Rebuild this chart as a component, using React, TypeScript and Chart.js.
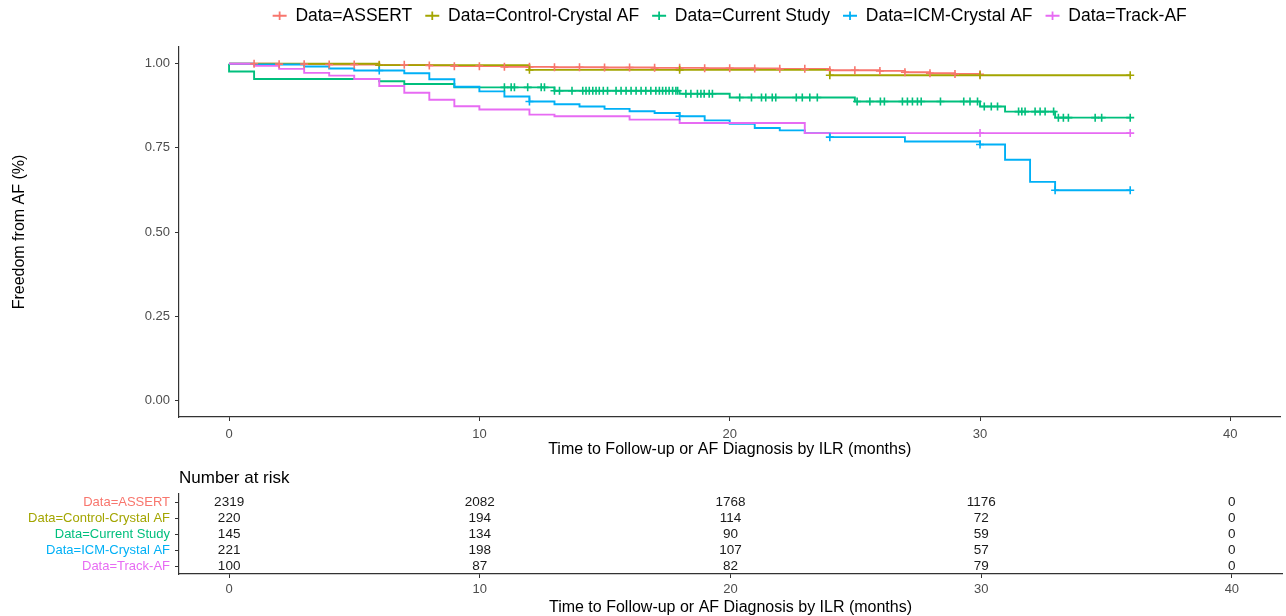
import React, { useEffect, useRef } from "react";
import { Chart, registerables } from "chart.js";

Chart.register(...registerables);

const FONT = "'Liberation Sans', Arial, Helvetica, sans-serif";

const seriesNames = [
  "Data=ASSERT",
  "Data=Control-Crystal AF",
  "Data=Current Study",
  "Data=ICM-Crystal AF",
  "Data=Track-AF",
];
const seriesColors = ["#F8766D", "#A3A500", "#00BF7D", "#00B0F6", "#E76BF3"];

// ASSERT
const assertTimes = [0, 2, 4, 6, 8, 9, 11, 13, 15, 17, 19, 21, 22, 24, 26, 27, 28, 29, 30];
const assertSurv = [1.0, 0.999, 0.998, 0.997, 0.995, 0.993, 0.991, 0.99, 0.989, 0.988, 0.987, 0.986, 0.985, 0.981, 0.979, 0.975, 0.972, 0.97, 0.969];
const assertCensor = [1, 2, 3, 4, 5, 6, 7, 8, 9, 10, 11, 12, 13, 14, 15, 16, 17, 18, 19, 20, 21, 22, 23, 24, 25, 26, 27, 28, 29, 30];

// Control-Crystal AF
const controlTimes = [0, 6, 12, 24, 36];
const controlSurv = [1.0, 0.996, 0.982, 0.966, 0.966];
const controlCensor = [6, 12, 18, 24, 30, 36];

// Current Study
const currentTimes = [0, 0, 1, 6, 7, 9, 13, 18, 20, 25, 30, 31, 33, 36];
const currentSurv = [1.0, 0.977, 0.955, 0.948, 0.94, 0.93, 0.92, 0.911, 0.9, 0.888, 0.873, 0.858, 0.84, 0.84];
const currentCensor = [
  11.0, 11.27, 11.4, 11.93, 12.47, 12.6, 13.0, 13.2, 13.7, 14.13, 14.26, 14.39, 14.53, 14.66, 14.79, 14.95,
  15.12, 15.46, 15.66, 15.86, 16.06, 16.26, 16.46, 16.65, 16.85, 17.05, 17.19, 17.32, 17.45, 17.58, 17.72,
  17.85, 17.92, 18.25, 18.45, 18.71, 18.85, 18.98, 19.18, 19.31, 20.4, 20.87, 21.27, 21.44, 21.7, 21.84,
  22.66, 22.9, 23.2, 23.5, 25.09, 25.6, 26.02, 26.18, 26.9, 27.1, 27.3, 27.5, 27.65, 28.42, 29.35, 29.6,
  29.9, 30.17, 30.45, 30.7, 31.54, 31.67, 31.8, 32.2, 32.4, 32.6, 32.94, 33.13, 33.33, 33.53, 34.6, 34.86, 36,
];

// ICM-Crystal AF
const icmTimes = [0, 1, 3, 4, 5, 7, 8, 9, 10, 11, 12, 13, 14, 15, 16, 17, 18, 19, 20, 21, 22, 23, 24, 27, 30, 31, 32, 33, 36];
const icmSurv = [1.0, 0.998, 0.992, 0.986, 0.98, 0.972, 0.954, 0.932, 0.918, 0.903, 0.888, 0.88, 0.873, 0.866, 0.859, 0.854, 0.844, 0.832, 0.822, 0.809, 0.802, 0.794, 0.782, 0.769, 0.76, 0.715, 0.649, 0.624, 0.624];
const icmCensor = [6, 12, 18, 24, 30, 33, 36];

// Track-AF
const trackTimes = [0, 1, 2, 3, 4, 5, 6, 7, 8, 9, 10, 12, 13, 16, 18, 23, 36];
const trackSurv = [1.0, 0.994, 0.985, 0.973, 0.965, 0.955, 0.934, 0.914, 0.893, 0.874, 0.864, 0.849, 0.844, 0.834, 0.824, 0.794, 0.794];
const trackCensor = [30, 36];

const xTicks = [0, 10, 20, 30, 40];
const yTicks = [0, 0.25, 0.5, 0.75, 1];

// Number at risk
const riskTimes = [0, 10, 20, 30, 40];
const riskAssert = [2319, 2082, 1768, 1176, 0];
const riskControl = [220, 194, 114, 72, 0];
const riskCurrent = [145, 134, 90, 59, 0];
const riskIcm = [221, 198, 107, 57, 0];
const riskTrack = [100, 87, 82, 79, 0];

function stepValue(times: number[], surv: number[], t: number): number {
  let v = surv[0];
  for (let i = 0; i < times.length; i++) {
    if (times[i] <= t) v = surv[i];
  }
  return v;
}

const AXIS_COLOR = "#333333";
const TICK_TEXT = "#4D4D4D";

function xAxisConfig(height: number, tickPad: number, titlePad: number) {
  return {
    type: "linear",
    min: -2,
    max: 42,
    afterBuildTicks: (s: any) => {
      s.ticks = xTicks.map((v) => ({ value: v }));
    },
    afterFit: (s: any) => {
      s.height = height;
    },
    ticks: {
      font: { family: FONT, size: 13 },
      color: TICK_TEXT,
      padding: tickPad,
      maxRotation: 0,
      autoSkip: false,
    },
    grid: { drawOnChartArea: false, drawTicks: true, tickLength: 4, color: AXIS_COLOR, lineWidth: 1 },
    border: { display: true, color: AXIS_COLOR, width: 1.2 },
    title: {
      display: true,
      text: "Time to Follow-up or AF Diagnosis by ILR (months)",
      font: { family: FONT, size: 16 },
      color: "#000",
      padding: { top: 0, bottom: titlePad },
    },
  };
}

function SurvivalChart() {
  const ref = useRef<HTMLCanvasElement>(null);
  useEffect(() => {
    if (!ref.current) return;
    const curves = [
      { times: assertTimes, surv: assertSurv, censor: assertCensor },
      { times: controlTimes, surv: controlSurv, censor: controlCensor },
      { times: currentTimes, surv: currentSurv, censor: currentCensor },
      { times: icmTimes, surv: icmSurv, censor: icmCensor },
      { times: trackTimes, surv: trackSurv, censor: trackCensor },
    ];
    const lineSets = curves.map((c, i) => ({
      label: seriesNames[i],
      data: c.times.map((t, j) => ({ x: t, y: c.surv[j] })),
      borderColor: seriesColors[i],
      backgroundColor: seriesColors[i],
      borderWidth: 1.9,
      stepped: "before",
      pointRadius: 0,
      pointHoverRadius: 0,
      pointStyle: "cross",
      pointBorderColor: seriesColors[i],
      pointBorderWidth: 1.8,
      fill: false,
      tension: 0,
      order: 10 - i,
    }));
    const censorSets = curves.map((c, i) => ({
      label: seriesNames[i] + " (censored)",
      data: c.censor.map((t) => ({ x: t, y: stepValue(c.times, c.surv, t) })),
      showLine: false,
      pointStyle: "cross",
      pointRadius: 4,
      pointHoverRadius: 4,
      pointBorderWidth: 1.6,
      pointBorderColor: seriesColors[i],
      pointBackgroundColor: seriesColors[i],
      borderColor: seriesColors[i],
      backgroundColor: seriesColors[i],
      order: 5 - i,
    }));

    const chart = new Chart(ref.current, {
      type: "line",
      data: { datasets: [...lineSets, ...censorSets] as any },
      options: {
        animation: false,
        responsive: false,
        events: [],
        layout: { padding: { top: -6, right: 4, left: 0, bottom: 0 } },
        plugins: {
          tooltip: { enabled: false },
          legend: {
            display: true,
            position: "top",
            fullSize: false,
            labels: {
              usePointStyle: true,
              pointStyleWidth: 14,
              boxHeight: 6,
              padding: 13,
              color: "#000",
              font: { family: FONT, size: 17.5 },
              filter: (item: any) => item.datasetIndex < seriesNames.length,
              sort: (a: any, b: any) => a.datasetIndex - b.datasetIndex,
            },
          },
        },
        scales: {
          x: xAxisConfig(43, 5.5, 0.4) as any,
          xTop: {
            type: "linear",
            position: "top",
            display: true,
            grid: { display: false },
            border: { display: false },
            ticks: { display: false },
            afterFit: (s: any) => {
              s.height = 12.5;
            },
          } as any,
          y: {
            type: "linear",
            min: -0.05,
            max: 1.05,
            afterBuildTicks: (s: any) => {
              s.ticks = yTicks.map((v) => ({ value: v }));
            },
            afterFit: (s: any) => {
              s.width = 179;
            },
            ticks: {
              font: { family: FONT, size: 13 },
              color: TICK_TEXT,
              padding: 5,
              callback: (v: any) => Number(v).toFixed(2),
            },
            grid: { drawOnChartArea: false, drawTicks: true, tickLength: 4, color: AXIS_COLOR, lineWidth: 1 },
            border: { display: true, color: AXIS_COLOR, width: 1.2 },
            title: {
              display: true,
              text: "Freedom from AF (%)",
              font: { family: FONT, size: 16 },
              color: "#000",
              padding: { top: 10.4, bottom: 0 },
            },
          } as any,
        },
      },
    });
    return () => chart.destroy();
  }, []);
  return <canvas ref={ref} width={1286} height={460} style={{ display: "block", width: 1286, height: 460 }} />;
}

function RiskTable() {
  const ref = useRef<HTMLCanvasElement>(null);
  useEffect(() => {
    if (!ref.current) return;
    const riskCounts = [riskAssert, riskControl, riskCurrent, riskIcm, riskTrack];
    const riskText = {
      id: "riskText",
      afterDatasetsDraw(chart: any) {
        const ctx = chart.ctx;
        ctx.save();
        ctx.font = `13.5px ${FONT}`;
        ctx.fillStyle = "#1a1a1a";
        ctx.textAlign = "center";
        ctx.textBaseline = "middle";
        chart.data.datasets.forEach((_ds: any, i: number) => {
          const meta = chart.getDatasetMeta(i);
          meta.data.forEach((pt: any, j: number) => {
            ctx.fillText(String(riskCounts[i][j]), pt.x, pt.y);
          });
        });
        ctx.restore();
      },
    };
    const chart = new Chart(ref.current, {
      type: "line",
      data: {
        datasets: seriesNames.map((name, i) => ({
          label: name,
          data: riskTimes.map((t) => ({ x: t, y: name })),
          showLine: false,
          pointRadius: 0,
          pointHoverRadius: 0,
          borderColor: seriesColors[i],
        })) as any,
      },
      options: {
        animation: false,
        responsive: false,
        events: [],
        layout: { padding: { top: 0, right: 4, left: 0, bottom: 0 } },
        plugins: {
          tooltip: { enabled: false },
          legend: { display: false },
          title: {
            display: true,
            text: "Number at risk",
            align: "start",
            fullSize: false,
            color: "#000",
            font: { family: FONT, size: 17, weight: "normal" },
            padding: { top: 7.8, bottom: 5.8 },
          },
        },
        scales: {
          x: xAxisConfig(42, 3.5, -1.6) as any,
          y: {
            type: "category",
            labels: seriesNames,
            offset: true,
            afterFit: (s: any) => {
              s.width = 179;
            },
            ticks: {
              font: { family: FONT, size: 13 },
              color: (c: any) => seriesColors[c.index % seriesColors.length],
              padding: 5,
              autoSkip: false,
            },
            grid: { offset: false, drawOnChartArea: false, drawTicks: true, tickLength: 4, color: AXIS_COLOR, lineWidth: 1 },
            border: { display: true, color: AXIS_COLOR, width: 1.2 },
          } as any,
        },
      },
      plugins: [riskText],
    });
    return () => chart.destroy();
  }, []);
  return <canvas ref={ref} width={1286} height={156} style={{ display: "block", width: 1286, height: 156 }} />;
}

export default function App() {
  return (
    <div style={{ position: "absolute", left: 0, top: 0, width: 1286, height: 616, background: "#fff", overflow: "hidden" }}>
      <SurvivalChart />
      <RiskTable />
    </div>
  );
}
